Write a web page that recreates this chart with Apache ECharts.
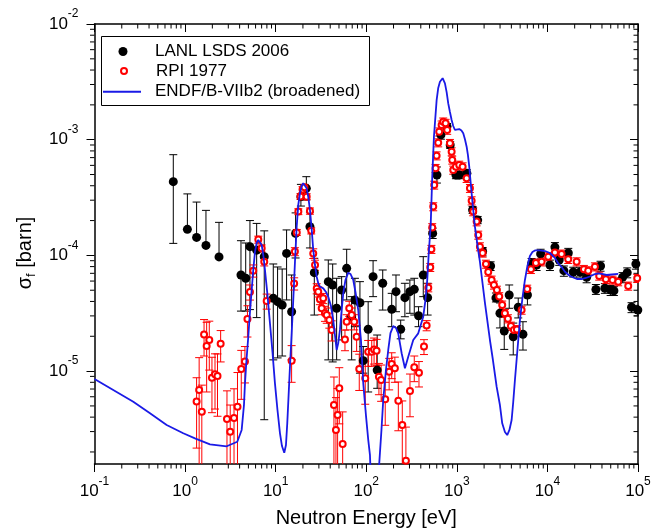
<!DOCTYPE html>
<html>
<head>
<meta charset="utf-8">
<script src="https://cdn.jsdelivr.net/npm/echarts@6.0.0/dist/echarts.min.js"></script>
<style>
  html, body { margin: 0; padding: 0; background: #fff; }
  #main { width: 662px; height: 530px; }
</style>
</head>
<body>
<div id="main"></div>
<script>
// LANL LSDS 2006: energy [eV], sigma_f [barn], error bar ends (0 = no lower bar)
const lanlE = [
  0.741, 1.06, 1.34, 1.70, 2.37, 4.14, 4.67, 5.20, 6.17, 7.48,
  9.41, 10.5, 11.8, 13.2, 15.0, 16.6, 19.0, 21.8, 23.9, 26.7,
  38.1, 42.6, 47.1, 53.5, 60.8, 69.0, 75.0, 85.2, 92.7, 105,
  119, 132, 152, 191, 213, 240, 267, 303, 339, 378,
  426, 476, 541, 603, 667, 778, 845, 977, 1062, 1291,
  1493, 1698, 1926, 2360, 2703, 2992, 3337, 3786, 4195, 4764,
  5370, 6015, 6693, 7600, 8414, 10660, 12100, 13500, 15200, 17000,
  19300, 22900, 27100, 34300, 38600, 43100, 49900, 54200, 67600, 76000,
  84900, 94800, 99500
];
const lanlS = [
  4.34e-4, 1.68e-4, 1.43e-4, 1.22e-4, 9.7e-5, 6.77e-5, 6.34e-5, 1.19e-4, 1.11e-4, 9.75e-5,
  4.26e-5, 3.98e-5, 3.73e-5, 1.04e-4, 3.26e-5, 1.55e-4, 3.22e-4, 3.80e-4, 1.77e-4, 7.09e-5,
  5.93e-5, 5.55e-5, 3.49e-5, 5.02e-5, 7.73e-5, 2.95e-5, 4.12e-5, 3.90e-5, 1.23e-5, 2.30e-5,
  6.55e-5, 1.02e-5, 5.74e-5, 3.42e-5, 4.86e-5, 2.30e-5, 4.31e-5, 4.86e-5, 5.09e-5, 3.01e-5,
  6.77e-5, 4.31e-5, 1.55e-4, 4.95e-4, 1.10e-3, 1.30e-3, 9.0e-4, 4.95e-4, 4.95e-4, 5.12e-4,
  2.47e-4, 2.02e-4, 1.08e-4, 8.10e-5, 4.28e-5, 3.16e-5, 2.22e-5, 4.55e-5, 1.98e-5, 3.56e-5,
  2.08e-5, 4.55e-5, 8.51e-5, 8.26e-5, 1.03e-4, 8.26e-5, 1.18e-4, 9.13e-5, 7.38e-5, 1.05e-4,
  7.19e-5, 7.19e-5, 6.47e-5, 5.07e-5, 8.10e-5, 5.20e-5, 5.02e-5, 4.95e-5, 6.47e-5, 7.09e-5,
  3.56e-5, 8.43e-5, 3.37e-5
];
const lanlLo = [
  1.27e-4, 0, 0, 0, 0, 3.3e-5, 3.3e-5, 3.4e-5, 2.9e-5, 3.8e-6,
  1.25e-5, 1.30e-5, 1.35e-5, 4.12e-5, 1.25e-5, 9.5e-5, 2.67e-4, 3.01e-4, 1.16e-4, 3.05e-5,
  1.25e-5, 1.20e-5, 1.25e-5, 1.86e-5, 4.12e-5, 1.25e-5, 2.42e-5, 9.6e-6, 9.6e-6, 6.6e-6,
  4.40e-5, 7.1e-6, 3.37e-5, 2.42e-5, 3.26e-5, 1.9e-5, 2.95e-5, 3.16e-5, 3.05e-5, 2.42e-5,
  4.40e-5, 3.05e-5, 1.40e-4, 4.22e-4, 1.01e-3, 1.22e-3, 8.4e-4, 4.6e-4, 4.6e-4, 4.8e-4,
  2.3e-4, 1.88e-4, 9.9e-5, 7.4e-5, 3.96e-5, 2.36e-5, 1.54e-5, 3.49e-5, 1.38e-5, 2.88e-5,
  1.52e-5, 3.73e-5, 7.6e-5, 7.4e-5, 9.3e-5, 7.4e-5, 1.07e-4, 8.2e-5, 6.6e-5, 9.5e-5,
  6.5e-5, 6.5e-5, 5.8e-5, 4.6e-5, 7.3e-5, 4.7e-5, 4.5e-5, 4.5e-5, 5.8e-5, 6.4e-5,
  3.2e-5, 7.6e-5, 3.0e-5
];
const lanlHi = [
  7.42e-4, 3.40e-4, 2.89e-4, 2.45e-4, 1.93e-4, 1.34e-4, 1.28e-4, 2.0e-4, 1.89e-4, 1.63e-4,
  8.43e-5, 7.94e-5, 7.63e-5, 1.66e-4, 6.77e-5, 2.33e-4, 4.11e-4, 4.79e-4, 2.37e-4, 9.44e-5,
  9.13e-5, 8.43e-5, 6.34e-5, 6.55e-5, 1.13e-4, 4.40e-5, 6.34e-5, 5.93e-5, 1.63e-5, 3.98e-5,
  9.0e-5, 2.05e-5, 7.48e-5, 4.70e-5, 6.77e-5, 2.76e-5, 5.74e-5, 6.13e-5, 6.34e-5, 3.60e-5,
  9.75e-5, 5.74e-5, 1.72e-4, 5.81e-4, 1.19e-3, 1.38e-3, 9.6e-4, 5.3e-4, 5.3e-4, 5.5e-4,
  2.65e-4, 2.17e-4, 1.17e-4, 8.8e-5, 4.73e-5, 3.88e-5, 2.95e-5, 5.55e-5, 2.60e-5, 4.28e-5,
  2.67e-5, 5.23e-5, 9.4e-5, 9.1e-5, 1.13e-4, 9.1e-5, 1.29e-4, 1.0e-4, 8.1e-5, 1.15e-4,
  7.9e-5, 7.9e-5, 7.1e-5, 5.6e-5, 8.9e-5, 5.7e-5, 5.5e-5, 5.4e-5, 7.1e-5, 7.8e-5,
  3.9e-5, 9.2e-5, 3.7e-5
];

// RPI 1977: energy [eV], sigma_f [barn], error [barn]
const rpiE = [
  1.34, 1.43, 1.53, 1.62, 1.73, 1.85, 1.98, 2.14, 2.28, 2.47,
  2.90, 3.15, 3.47, 3.79, 4.17, 4.58, 4.88, 5.20, 5.66, 6.43,
  7.01, 7.48, 7.96, 15.0, 16.0, 16.3, 17.1, 17.8, 18.8, 19.8,
  20.8, 22.0, 23.9, 24.7, 26.0, 27.2, 28.4, 29.5, 30.8, 32.2,
  33.5, 35.0, 36.6, 39.1, 41.5, 44.0, 46.3, 48.3, 50.4, 54.9,
  58.2, 60.8, 64.9, 69.0, 73.7, 78.3, 83.7, 97.5, 105, 115,
  122, 130, 138, 146, 162, 179, 191, 207, 226, 250,
  274, 304, 339, 382, 434, 464, 484, 509, 524, 535,
  549, 563, 583, 598, 623, 639, 679, 708, 752, 783,
  839, 876, 890, 913, 977, 1063, 1159, 1283, 1395, 1457,
  1517, 1654, 1723, 1799, 1927, 2095, 2222, 2422, 2568, 2771,
  2938, 3170, 3396, 3664, 3955, 4268, 4607, 5190, 5984, 6575,
  7467, 8630, 10210, 12100, 14340, 16970, 21010, 25300, 28200, 33450,
  37300, 44200, 52400, 60500, 78000, 98000
];
const rpiS = [
  5.46e-6, 6.87e-6, 4.46e-6, 2.07e-5, 1.65e-5, 1.86e-5, 8.77e-6, 9.40e-6, 9.07e-6, 1.72e-5,
  3.85e-6, 2.99e-6, 3.93e-6, 4.92e-6, 1.04e-5, 1.21e-5, 2.82e-5, 4.83e-5, 7.38e-5, 1.37e-4,
  1.15e-4, 8.82e-5, 4.03e-5, 1.23e-5, 5.71e-5, 1.08e-4, 1.58e-4, 2.39e-4, 3.23e-4, 3.71e-4,
  3.88e-4, 3.22e-4, 2.42e-4, 1.63e-4, 1.04e-4, 8.26e-5, 5.17e-5, 4.86e-5, 4.17e-5, 3.49e-5,
  4.26e-5, 3.16e-5, 3.05e-5, 2.76e-5, 2.27e-5, 5.09e-6, 3.10e-6, 4.17e-6, 7.10e-6, 2.34e-6,
  1.88e-5, 2.67e-5, 3.49e-5, 3.05e-5, 2.67e-5, 1.98e-5, 1.04e-5, 8.67e-6, 1.47e-5, 1.47e-5,
  1.54e-5, 1.50e-5, 8.95e-6, 8.38e-6, 5.70e-6, 9.88e-6, 1.15e-5, 1.06e-5, 5.55e-6, 3.42e-6,
  1.68e-6, 6.73e-6, 1.08e-5, 9.69e-6, 1.63e-5, 2.48e-5, 5.26e-5, 7.89e-5, 1.13e-4, 1.74e-4,
  2.64e-4, 4.06e-4, 5.66e-4, 7.27e-4, 9.42e-4, 1.17e-3, 1.34e-3, 1.43e-3, 1.39e-3, 1.21e-3,
  9.31e-4, 7.88e-4, 6.68e-4, 5.47e-4, 5.84e-4, 6.04e-4, 5.84e-4, 4.64e-4, 3.80e-4, 2.97e-4,
  2.39e-4, 1.96e-4, 1.50e-4, 1.19e-4, 1.05e-4, 8.42e-5, 7.19e-5, 6.13e-5, 5.55e-5, 5.02e-5,
  4.41e-5, 3.73e-5, 3.16e-5, 2.84e-5, 2.45e-5, 2.27e-5, 2.29e-5, 3.37e-5, 5.12e-5, 7.58e-5,
  8.59e-5, 8.82e-5, 9.75e-5, 1.06e-4, 1.03e-4, 9.25e-5, 8.82e-5, 7.58e-5, 7.38e-5, 7.98e-5,
  6.64e-5, 6.21e-5, 6.13e-5, 5.93e-5, 5.44e-5, 6.34e-5
];
const rpiErr = [
  3.3e-6, 6.2e-6, 3.1e-6, 7.2e-6, 9.9e-6, 8.4e-6, 4.4e-6, 4.7e-6, 5.0e-6, 5.2e-6,
  2.9e-6, 2.1e-6, 3.1e-6, 4.8e-6, 4.7e-6, 4.2e-6, 8.5e-6, 7.2e-6, 8.9e-6, 9.6e-6,
  8.1e-6, 7.1e-6, 6.0e-6, 4.3e-6, 6.9e-6, 8.6e-6, 9.5e-6, 1.4e-5, 1.9e-5, 2.2e-5,
  2.3e-5, 1.9e-5, 1.5e-5, 9.8e-6, 1.0e-5, 8.3e-6, 5.2e-6, 4.9e-6, 4.2e-6, 4.2e-6,
  4.3e-6, 4.7e-6, 4.6e-6, 4.1e-6, 4.5e-6, 3.8e-6, 2.8e-6, 2.9e-6, 3.6e-6, 2.1e-6,
  3.8e-6, 4.0e-6, 5.2e-6, 4.6e-6, 4.0e-6, 5.0e-6, 3.6e-6, 3.5e-6, 3.7e-6, 3.7e-6,
  3.9e-6, 3.8e-6, 2.7e-6, 2.9e-6, 2.3e-6, 3.0e-6, 2.9e-6, 2.6e-6, 2.5e-6, 2.1e-6,
  1.6e-6, 2.7e-6, 2.7e-6, 2.4e-6, 2.4e-6, 2.5e-6, 4.2e-6, 6.3e-6, 9.0e-6, 1.4e-5,
  2.1e-5, 3.2e-5, 4.5e-5, 5.8e-5, 7.5e-5, 9.4e-5, 1.1e-4, 1.1e-4, 1.1e-4, 9.7e-5,
  7.4e-5, 6.3e-5, 5.3e-5, 4.4e-5, 4.7e-5, 4.8e-5, 4.7e-5, 3.7e-5, 3.0e-5, 2.4e-5,
  1.9e-5, 1.6e-5, 1.2e-5, 9.5e-6, 8.4e-6, 6.7e-6, 5.8e-6, 4.9e-6, 4.4e-6, 4.0e-6,
  3.5e-6, 3.0e-6, 2.5e-6, 2.3e-6, 2.0e-6, 1.8e-6, 1.8e-6, 2.7e-6, 4.1e-6, 6.1e-6,
  6.9e-6, 7.1e-6, 7.8e-6, 8.4e-6, 8.2e-6, 7.4e-6, 7.1e-6, 6.1e-6, 5.9e-6, 6.4e-6,
  5.3e-6, 5.0e-6, 4.9e-6, 4.7e-6, 4.4e-6, 5.1e-6
];
const RPI_DX = 0.08;        // relative energy resolution bar
const RPI_DX_FROM = 400;    // shown above this energy

// ENDF/B-VIIb2 (broadened) curve
const endfE = [
  0.1, 0.268, 0.41, 0.626, 0.955, 1.286, 1.883, 2.879, 3.769, 4.214,
  4.468, 4.583, 4.762, 4.984, 5.204, 5.435, 5.659, 5.908, 6.17, 6.427,
  6.71, 7.007, 7.298, 7.62, 8.12, 8.65, 9.22, 9.82, 10.47, 11.16,
  11.74, 12.44, 12.99, 13.43, 13.85, 14.38, 15.02, 15.64, 16.33, 17.06,
  17.76, 18.54, 19.36, 20.16, 21.05, 21.99, 22.9, 23.91, 24.97, 26.0,
  27.15, 28.35, 29.53, 30.83, 33.53, 35.92, 38.07, 40.77, 43.23, 45.13,
  47.12, 49.08, 51.25, 53.51, 55.73, 58.95, 63.29, 66.93, 71.88, 76.0,
  81.6, 87.4, 92.7, 99.2, 105.2, 109.9, 125.7, 139.2, 147.2, 154.0,
  165.0, 174.9, 185.0, 198.6, 212.8, 225.5, 245.9, 267.4, 290.8, 330.2,
  375, 425.7, 450.3, 471.3, 492.1, 513.8, 535.3, 558.8, 598.4, 623.3,
  650.9, 697.1, 739.1, 771.7, 803.8, 839.0, 876.1, 912.6, 952.9, 1002,
  1063, 1124, 1177, 1229, 1283, 1326, 1371, 1413, 1457, 1517,
  1584, 1688, 1799, 2043, 2319, 2503, 2750, 2990, 3170, 3396,
  3600, 3807, 4026, 4194, 4379, 4666, 4972, 5298, 5646, 6016,
  6410, 6831, 7278, 8265, 9385, 10660, 12100, 13160, 14340, 15610,
  17720, 19270, 21170, 23850, 26600, 29450, 32610, 36360, 39950, 45000,
  51500, 60500
];
const endfS = [
  8.55e-6, 5.44e-6, 4.32e-6, 3.42e-6, 2.90e-6, 2.62e-6, 2.33e-6, 2.24e-6, 2.45e-6, 3.10e-6,
  5.09e-6, 7.84e-6, 1.247e-5, 1.983e-5, 3.24e-5, 5.02e-5, 7.48e-5, 1.07e-4, 1.28e-4, 1.358e-4,
  1.345e-4, 1.23e-4, 1.008e-4, 7.48e-5, 4.55e-5, 2.59e-5, 1.462e-5, 7.84e-6, 4.61e-6, 2.90e-6,
  2.25e-6, 1.97e-6, 2.30e-6, 3.54e-6, 5.85e-6, 1.091e-5, 2.13e-5, 4.11e-5, 8.77e-5, 1.77e-4,
  2.73e-4, 3.44e-4, 3.98e-4, 4.20e-4, 4.10e-4, 3.80e-4, 3.20e-4, 2.47e-4, 1.69e-4, 1.114e-4,
  8.26e-5, 6.55e-5, 5.74e-5, 5.36e-5, 5.19e-5, 4.83e-5, 4.39e-5, 3.65e-5, 2.76e-5, 2.05e-5,
  1.522e-5, 1.749e-5, 2.27e-5, 3.37e-5, 4.70e-5, 6.13e-5, 7.09e-5, 6.91e-5, 6.13e-5, 4.83e-5,
  3.37e-5, 1.857e-5, 7.84e-6, 4.17e-6, 2.54e-6, 1.88e-6, 1e-7, 1.60e-6, 3.10e-6, 5.63e-6,
  1.022e-5, 1.522e-5, 2.13e-5, 2.45e-5, 2.36e-5, 2.12e-5, 1.426e-5, 1.057e-5, 1.332e-5, 1.857e-5,
  2.12e-5, 2.95e-5, 4.11e-5, 6.13e-5, 1.114e-4, 1.77e-4, 4.79e-4, 1.061e-3, 2.20e-3, 2.80e-3,
  3.17e-3, 3.40e-3, 3.07e-3, 2.58e-3, 2.06e-3, 1.735e-3, 1.48e-3, 1.313e-3, 1.213e-3, 1.213e-3,
  1.237e-3, 1.20e-3, 1.136e-3, 1.01e-3, 8.70e-4, 7.37e-4, 5.84e-4, 4.48e-4, 3.44e-4, 2.47e-4,
  1.77e-4, 1.23e-4, 8.77e-5, 3.88e-5, 1.857e-5, 1.247e-5, 7.33e-6, 5.09e-6, 3.54e-6, 2.98e-6,
  2.80e-6, 3.10e-6, 3.78e-6, 5.41e-6, 8.38e-6, 1.522e-5, 2.76e-5, 4.28e-5, 6.13e-5, 8.10e-5,
  9.88e-5, 1.07e-4, 1.103e-4, 1.103e-4, 1.091e-4, 1.049e-4, 9.50e-5, 8.54e-5, 7.94e-5, 7.23e-5,
  6.64e-5, 6.44e-5, 6.25e-5, 6.25e-5, 6.38e-5, 6.57e-5, 6.84e-5, 7.00e-5, 6.91e-5, 6.77e-5,
  6.84e-5, 6.91e-5
];

const X_MIN = 0.1, X_MAX = 1e5;
const Y_MIN = 1.574e-6, Y_MAX = 1e-2;
const FONT = '"Liberation Sans", Arial, Helvetica, sans-serif';
const MINOR = 4.5;
const BLUE = '#1a1ae6';

const lanlData = lanlE.map((e, i) => [e, lanlS[i], lanlLo[i], lanlHi[i]]);
const rpiBars = rpiE.map((e, i) => {
  const wide = e >= RPI_DX_FROM;
  return [e, rpiS[i], rpiS[i] - rpiErr[i], rpiS[i] + rpiErr[i],
          wide ? e * (1 - RPI_DX) : 0, wide ? e * (1 + RPI_DX) : 0];
});
const rpiBarsLow = rpiBars.filter(d => d[4] === 0);
const rpiBarsHigh = rpiBars.filter(d => d[4] > 0);

// minor tick positions (2..9 x 10^k)
const xMinorTicks = [], yMinorTicks = [];
for (let k = -1; k < 5; k++) for (let d = 2; d < 10; d++) xMinorTicks.push(d * Math.pow(10, k));
for (let k = -6; k < -2; k++) for (let d = 2; d < 10; d++) {
  const v = d * Math.pow(10, k);
  if (v > Y_MIN) yMinorTicks.push(v);
}

function powLabel(v) {
  return '{b|10}{s|' + Math.round(Math.log10(v)) + '}';
}
const powRich = {
  b: { fontFamily: FONT, fontSize: 17, color: '#000', lineHeight: 32, verticalAlign: 'middle' },
  s: { fontFamily: FONT, fontSize: 12, color: '#000', lineHeight: 14, verticalAlign: 'top' }
};

function errBars(capHalf, color) {
  return function (params, api) {
    const x = api.value(0), y = api.value(1), lo = api.value(2), hi = api.value(3);
    const p = api.coord([x, y]);
    const t = api.coord([x, hi]);
    const b = lo > 0 ? api.coord([x, lo]) : p;
    const st = { stroke: color, lineWidth: 1 };
    const ch = [
      { type: 'line', shape: { x1: p[0], y1: t[1], x2: p[0], y2: b[1] }, style: st },
      { type: 'line', shape: { x1: p[0] - capHalf, y1: t[1], x2: p[0] + capHalf, y2: t[1] }, style: st }
    ];
    if (lo > 0) {
      ch.push({ type: 'line', shape: { x1: p[0] - capHalf, y1: b[1], x2: p[0] + capHalf, y2: b[1] }, style: st });
    }
    const xl = api.value(4), xr = api.value(5);
    if (xl > 0) {
      const l = api.coord([xl, y]), r = api.coord([xr, y]);
      ch.push({ type: 'line', shape: { x1: l[0], y1: p[1], x2: r[0], y2: p[1] }, style: st });
    }
    return { type: 'group', children: ch };
  };
}

function tickLine(x1, y1, x2, y2) {
  return { type: 'line', shape: { x1: x1, y1: y1, x2: x2, y2: y2 }, style: { stroke: '#000', lineWidth: 1 } };
}

// one legend per entry so each icon keeps its own size; g = gap before the text
function legendEntry(name, left, top, w, h, gap, icon) {
  const item = { name: name };
  if (icon) { item.icon = icon; item.itemStyle = { color: BLUE }; }
  return {
    orient: 'vertical', left: left, top: top, padding: 0, itemGap: 0,
    itemWidth: w, itemHeight: h, z: 60, data: [item],
    formatter: '{g| }{name}',
    textStyle: {
      fontFamily: FONT, fontSize: 17, color: '#000',
      rich: { g: { width: gap } }
    }
  };
}

const axisLine = { lineStyle: { color: '#000', width: 1.5 } };

const chart = echarts.init(document.getElementById('main'));
chart.setOption({
  animation: false,
  backgroundColor: '#fff',
  grid: { left: 94.5, right: 24, top: 24, bottom: 66, containLabel: false, outerBoundsMode: 'none' },
  graphic: [{
    type: 'rect', left: 101, top: 36, z: 50,
    shape: { width: 268, height: 69 },
    style: { fill: '#fff', stroke: '#000', lineWidth: 1 }
  }],
  legend: [
    legendEntry('LANL LSDS 2006', 118.5, 43, 9, 9, 22.5),
    legendEntry('RPI 1977', 120, 62.5, 6, 6, 24),
    legendEntry('ENDF/B-VIIb2 (broadened)', 103, 83.3, 38, 2, 9, 'rect')
  ],
  xAxis: [{
    type: 'log', logBase: 10, min: X_MIN, max: X_MAX, position: 'bottom',
    splitLine: { show: false }, axisLine: axisLine,
    axisTick: { length: 8, lineStyle: { color: '#000', width: 1 } },
    axisLabel: { formatter: powLabel, rich: powRich, margin: 11.5 },
    name: 'Neutron Energy [eV]', nameLocation: 'middle', nameGap: 44,
    nameTextStyle: { fontFamily: FONT, fontSize: 20, color: '#000' }
  }, {
    type: 'log', logBase: 10, min: X_MIN, max: X_MAX, position: 'top',
    splitLine: { show: false }, axisLine: axisLine,
    axisTick: { inside: true, length: 8, lineStyle: { color: '#000', width: 1 } },
    axisLabel: { show: false }
  }],
  yAxis: [{
    type: 'log', logBase: 10, min: Y_MIN, max: Y_MAX, position: 'left',
    splitLine: { show: false }, axisLine: axisLine,
    axisTick: { length: 8, lineStyle: { color: '#000', width: 1 } },
    axisLabel: { formatter: powLabel, rich: powRich, margin: 16, showMinLabel: false },
    name: '{a|σ}{f|f}{a| [barn]}{g| }', nameLocation: 'middle', nameGap: 56,
    nameTextStyle: {
      rich: {
        a: { fontFamily: FONT, fontSize: 20, color: '#000', lineHeight: 26 },
        f: { fontFamily: FONT, fontSize: 13, color: '#000', lineHeight: 14, verticalAlign: 'bottom' },
        g: { width: 18 }
      }
    }
  }, {
    type: 'log', logBase: 10, min: Y_MIN, max: Y_MAX, position: 'right',
    splitLine: { show: false }, axisLine: axisLine,
    axisTick: { inside: true, length: 8, lineStyle: { color: '#000', width: 1 } },
    axisLabel: { show: false }
  }],
  series: [
    {
      name: 'xMinor', type: 'custom', silent: true, clip: false,
      data: xMinorTicks.map(v => [v, Y_MIN]),
      renderItem: (params, api) => {
        const v = api.value(0);
        const b = api.coord([v, Y_MIN]), t = api.coord([v, Y_MAX]);
        return { type: 'group', children: [
          tickLine(b[0], b[1], b[0], b[1] + MINOR),
          tickLine(t[0], t[1], t[0], t[1] + MINOR)
        ] };
      }
    },
    {
      name: 'yMinor', type: 'custom', silent: true, clip: false,
      data: yMinorTicks.map(v => [X_MIN, v]),
      renderItem: (params, api) => {
        const v = api.value(1);
        const l = api.coord([X_MIN, v]), r = api.coord([X_MAX, v]);
        return { type: 'group', children: [
          tickLine(l[0] - MINOR, l[1], l[0], l[1]),
          tickLine(r[0] - MINOR, r[1], r[0], r[1])
        ] };
      }
    },
    {
      name: 'lanlErr', type: 'custom', silent: true, clip: true,
      encode: { x: 0, y: 1 }, data: lanlData, renderItem: errBars(4, '#000')
    },
    {
      name: 'LANL LSDS 2006', type: 'scatter', symbol: 'circle', symbolSize: 9,
      itemStyle: { color: '#000', opacity: 1 }, data: lanlData.map(d => [d[0], d[1]])
    },
    {
      name: 'rpiErrLow', type: 'custom', silent: true, clip: true,
      encode: { x: 0, y: 1 }, data: rpiBarsLow, renderItem: errBars(4, '#f00')
    },
    {
      name: 'RPI 1977', type: 'scatter', symbol: 'emptyCircle', symbolSize: 6,
      itemStyle: { color: '#f00', borderColor: '#f00', borderWidth: 1.1, opacity: 1 },
      data: rpiE.map((e, i) => [e, rpiS[i]])
    },
    {
      name: 'rpiErrHigh', type: 'custom', silent: true, clip: true,
      encode: { x: 0, y: 1 }, data: rpiBarsHigh, renderItem: errBars(4, '#f00')
    },
    {
      name: 'ENDF/B-VIIb2 (broadened)', type: 'line', symbol: 'none', showSymbol: false,
      clip: true, lineStyle: { color: BLUE, width: 1.8 }, itemStyle: { color: BLUE },
      data: endfE.map((e, i) => [e, endfS[i]])
    }
  ]
});
</script>
</body>
</html>
